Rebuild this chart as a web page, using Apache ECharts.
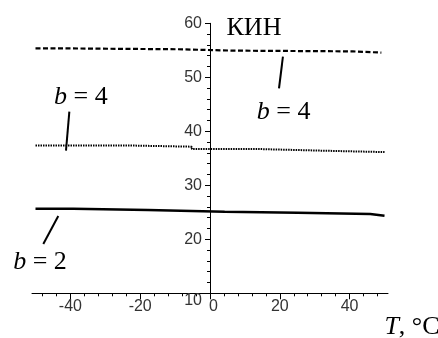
<!DOCTYPE html>
<html>
<head>
<meta charset="utf-8">
<script src="https://cdn.jsdelivr.net/npm/echarts@6/dist/echarts.min.js"></script>
<style>
html,body{margin:0;padding:0;background:#fff;}
#EchartDiv{width:438px;height:338px;}
</style>
</head>
<body>
<div id="EchartDiv"></div>
<script>
// КИН(T), три кривые: штрих, пунктир, сплошная
var arrDashT   = [-50, -44.8, -9.1, 6.7, 40.9, 49.1];
var arrDashK   = [55.37, 55.19, 54.94, 54.80, 54.57, 54.57];
var arrDotT    = [-50, -22.9, -5.2, 13.7, 32.3, 50];
var arrDotK    = [37.37, 37.15, 36.72, 36.41, 36.15, 36.15];
var arrSolidT  = [-50, -39.2, -17.8, 4.2, 25.1, 45.9, 50];
var arrSolidK  = [25.67, 25.43, 25.11, 24.93, 24.69, 24.37, 24.37];

// оси
var xMin = -51, xMax = 51;
var yMin = 10, yMax = 60;
var xTickMinor = [-48, 48, 4];   // min, max, interval
var xTickMajor = [-40, 40, 20];

// подписи и выноски (в координатах графика)
var arrNoteText = ['{i|b}{r| = 4}', '{i|b}{r| = 4}', '{i|b}{r| = 2}', '{r|КИН}'];
var arrNotePos  = [[-37.0, 46.3], [21.1, 43.6], [-48.7, 15.7], [12.6, 59.1]];
var arrLeader   = [
	[[-40.3, 43.63], [-41.26, 36.41]],
	[[20.9, 53.81], [19.77, 47.96]],
	[[-43.47, 24.31], [-47.76, 19.13]]
];

var obj = {};
obj.myChart = echarts.init(document.getElementById('EchartDiv'));

function zip(a, b){
	var r = [];
	for (var i = 0; i < a.length; i++) r.push([a[i], b[i]]);
	return r;
}

var gLeft = 32, gRight = 50, gTop = 23.3, gBottom = 44.7;
var W = 438 - gLeft - gRight;
var pxPerUnit = W / (xMax - xMin);
var offMinor = (xTickMinor[0] - xMin) * pxPerUnit;
var offMajor = (xTickMajor[0] - xMin) * pxPerUnit;
var offYAxis = (0 - xMin) * pxPerUnit;   // ось КИН проходит через T = 0

var serif = 'Liberation Serif';
var richSerif = {
	i: {fontStyle: 'italic', fontFamily: serif, fontSize: 26, color: '#000'},
	r: {fontFamily: serif, fontSize: 26, color: '#000'}
};

var option = {
	animation: false,
	backgroundColor: '#fff',
	grid: [
		{left: gLeft, right: gRight, top: gTop, bottom: gBottom},
		{left: gLeft + offMinor, right: gRight + offMinor, top: gTop, bottom: gBottom},
		{left: gLeft + offMajor, right: gRight + offMajor, top: gTop, bottom: gBottom}
	],
	xAxis: [
		{
			type: 'value', gridIndex: 0, min: xMin, max: xMax,
			axisLine: {show: true, onZero: false, lineStyle: {color: '#000', width: 1}},
			axisTick: {show: false}, axisLabel: {show: false}, splitLine: {show: false}
		},
		{
			type: 'value', gridIndex: 1, min: xTickMinor[0], max: xTickMinor[1], interval: xTickMinor[2],
			axisLine: {show: false, onZero: false},
			axisTick: {show: true, length: 3, lineStyle: {color: '#000', width: 1}},
			axisLabel: {
				margin: 5, color: '#333', fontFamily: 'Liberation Sans', fontSize: 16,
				formatter: function(v){
					if (v % 20 !== 0) return '';
					return v === 0 ? '{z|0}' : String(v);
				},
				rich: {z: {padding: [0, 0, 0, 7], color: '#333', fontFamily: 'Liberation Sans', fontSize: 16}}
			},
			splitLine: {show: false}
		},
		{
			type: 'value', gridIndex: 2, min: xTickMajor[0], max: xTickMajor[1], interval: xTickMajor[2],
			axisLine: {show: false, onZero: false},
			axisTick: {show: true, length: 6, lineStyle: {color: '#000', width: 1}},
			axisLabel: {show: false}, splitLine: {show: false}
		}
	],
	yAxis: [
		{
			type: 'value', gridIndex: 0, min: yMin, max: yMax, interval: 10,
			position: 'left', offset: -offYAxis,
			axisLine: {show: true, onZero: false, lineStyle: {color: '#000', width: 1}},
			axisTick: {show: true, length: 5, lineStyle: {color: '#000', width: 1}},
			minorTick: {show: true, splitNumber: 5, length: 3, lineStyle: {color: '#000', width: 1}},
			axisLabel: {
				margin: 8, color: '#333', fontFamily: 'Liberation Sans', fontSize: 16,
				formatter: function(v){ return v === 10 ? '{lo|10}' : String(v); },
				rich: {lo: {padding: [15, 0, 0, 0], color: '#333', fontFamily: 'Liberation Sans', fontSize: 16}}
			},
			splitLine: {show: false}
		},
		{type: 'value', gridIndex: 1, min: yMin, max: yMax, show: false},
		{type: 'value', gridIndex: 2, min: yMin, max: yMax, show: false}
	],
	series: [
		{
			name: 'dash', type: 'line', xAxisIndex: 0, yAxisIndex: 0, step: 'end',
			showSymbol: false, symbol: 'none',
			lineStyle: {color: '#000', width: 2.2, type: [5, 2.5]},
			data: zip(arrDashT, arrDashK)
		},
		{
			name: 'dot', type: 'line', xAxisIndex: 0, yAxisIndex: 0, step: 'end',
			showSymbol: false, symbol: 'none',
			lineStyle: {color: '#000', width: 2, type: [1.5, 1]},
			data: zip(arrDotT, arrDotK)
		},
		{
			name: 'solid', type: 'line', xAxisIndex: 0, yAxisIndex: 0, step: 'end',
			showSymbol: false, symbol: 'none',
			lineStyle: {color: '#000', width: 2.6},
			data: zip(arrSolidT, arrSolidK)
		}
	]
};
obj.myChart.setOption(option);

// выноски и надписи
var gfx = [];
for (var i = 0; i < arrLeader.length; i++){
	var p1 = obj.myChart.convertToPixel({gridIndex: 0}, arrLeader[i][0]);
	var p2 = obj.myChart.convertToPixel({gridIndex: 0}, arrLeader[i][1]);
	gfx.push({
		type: 'line',
		shape: {x1: p1[0], y1: p1[1], x2: p2[0], y2: p2[1]},
		style: {stroke: '#000', lineWidth: 2}
	});
}
for (var j = 0; j < arrNoteText.length; j++){
	var p = obj.myChart.convertToPixel({gridIndex: 0}, arrNotePos[j]);
	gfx.push({
		type: 'text', x: p[0], y: p[1],
		style: {
			text: arrNoteText[j], fill: '#000', fontFamily: serif, fontSize: 26,
			align: 'center', verticalAlign: 'middle', rich: richSerif
		}
	});
}
// подпись оси T
gfx.push({
	type: 'text', x: 412, y: 327,
	style: {
		text: '{i|T}{r|, °C}', fill: '#000', fontFamily: serif, fontSize: 26,
		align: 'center', verticalAlign: 'middle', rich: richSerif
	}
});
obj.myChart.setOption({graphic: gfx});
</script>
</body>
</html>
